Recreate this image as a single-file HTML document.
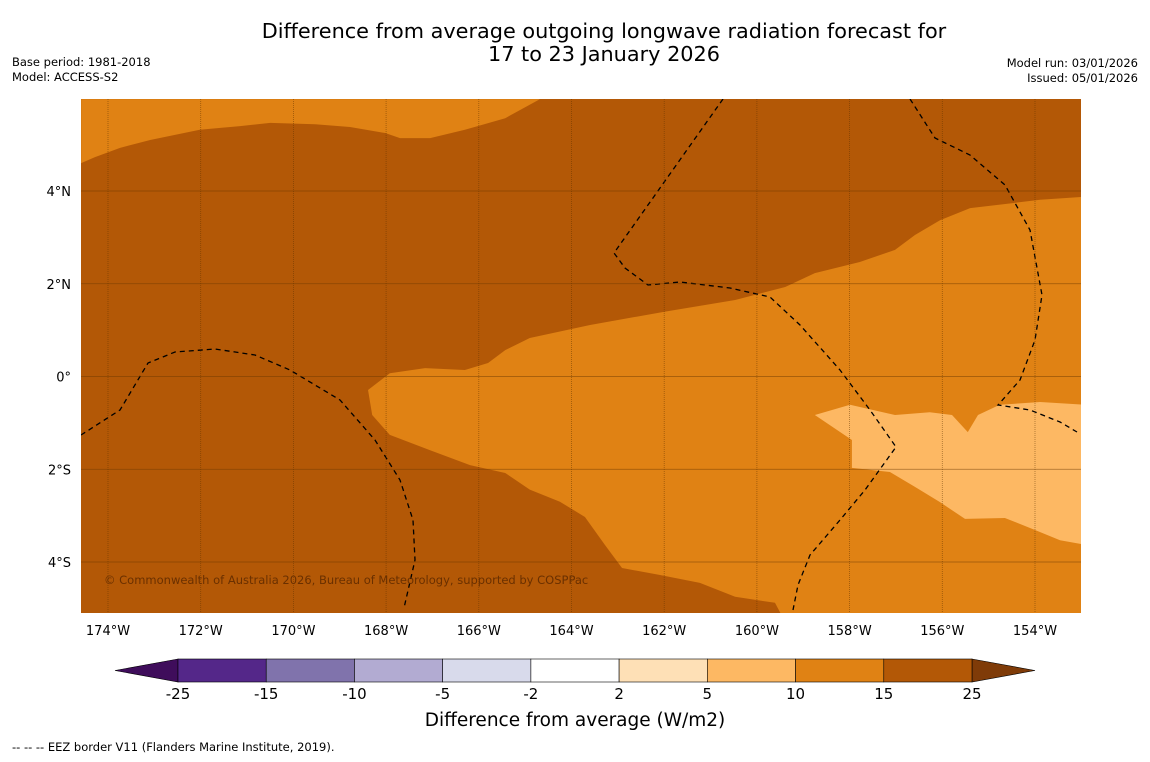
<!DOCTYPE html>
<html><head><meta charset="utf-8"><style>
body{margin:0;background:#fff;font-family:"DejaVu Sans","Liberation Sans",sans-serif;}
svg text{font-family:"DejaVu Sans","Liberation Sans",sans-serif;}
</style></head><body>
<svg id="c" width="1150" height="758" xmlns="http://www.w3.org/2000/svg">
<rect width="1150" height="758" fill="#fff"/>
<text x="604" y="38" font-size="20.8" text-anchor="middle">Difference from average outgoing longwave radiation forecast for</text>
<text x="604" y="61" font-size="20.8" text-anchor="middle">17 to 23 January 2026</text>
<text x="12" y="66" font-size="11.5">Base period: 1981-2018</text>
<text x="12" y="81" font-size="11.5">Model: ACCESS-S2</text>
<text x="1138" y="67" font-size="11.5" text-anchor="end">Model run: 03/01/2026</text>
<text x="1138" y="82" font-size="11.5" text-anchor="end">Issued: 05/01/2026</text>
<defs><clipPath id="mc"><rect x="81" y="99" width="1000" height="514"/></clipPath></defs>
<g id="map" clip-path="url(#mc)"></g>
<g id="axes"></g>
<g id="cbar"></g>
<text x="575" y="726" font-size="18.5" text-anchor="middle">Difference from average (W/m2)</text>
<text x="12" y="751" font-size="11.5">--  --  -- EEZ border V11 (Flanders Marine Institute, 2019).</text>
</svg>
<script>
const lonTicks=[-174,-172,-170,-168,-166,-164,-162,-160,-158,-156,-154];
const latTicks=[4,2,0,-2,-4];
const cbLevels=[-25,-15,-10,-5,-2,2,5,10,15,25];
const cbColors=["#542789","#8073ac","#b2abd2","#d8daeb","#ffffff","#fee0b6","#fdb863","#e08214","#b35806"];
const regionTopLeft=[[-174.58,5.98],[-164.68,5.98],[-165.43,5.57],[-166.30,5.32],[-167.05,5.14],[-167.70,5.14],[-168.02,5.25],[-168.78,5.38],[-169.53,5.44],[-170.50,5.47],[-171.15,5.40],[-172.02,5.32],[-173.09,5.10],[-173.74,4.93],[-174.28,4.73],[-174.58,4.60]];
const regionMid=[[-153.01,3.87],[-153.89,3.81],[-155.40,3.63],[-156.05,3.37],[-156.59,3.05],[-157.02,2.73],[-157.78,2.47],[-158.75,2.23],[-159.39,1.93],[-160.47,1.65],[-161.98,1.40],[-163.60,1.11],[-164.90,0.83],[-165.43,0.57],[-165.80,0.29],[-166.30,0.14],[-167.16,0.18],[-167.92,0.07],[-168.39,-0.29],[-168.30,-0.83],[-167.92,-1.26],[-167.05,-1.59],[-166.19,-1.91],[-165.43,-2.08],[-164.90,-2.44],[-164.25,-2.70],[-163.71,-3.03],[-163.28,-3.63],[-162.91,-4.13],[-162.09,-4.28],[-161.23,-4.45],[-160.47,-4.75],[-159.61,-4.88],[-159.44,-5.2],[-152.9,-5.2],[-152.9,3.87]];
const regionLight=[[-158.75,-0.83],[-157.99,-0.61],[-157.02,-0.83],[-156.27,-0.77],[-155.79,-0.83],[-155.45,-1.20],[-155.23,-0.83],[-154.76,-0.61],[-153.89,-0.55],[-152.9,-0.61],[-152.9,-3.63],[-153.46,-3.53],[-154.0,-3.31],[-154.65,-3.05],[-155.51,-3.07],[-156.05,-2.71],[-156.59,-2.38],[-157.13,-2.06],[-157.95,-1.97],[-157.95,-1.37]];
const xs=lon=>108+(lon+174)*46.35;
const ys=lat=>376.5-lat*46.375;
const NS="http://www.w3.org/2000/svg";
function mk(t,a,p){const e=document.createElementNS(NS,t);for(const k in a)e.setAttribute(k,a[k]);p.appendChild(e);return e;}
const map=document.getElementById('map');
const bg=mk('rect',{x:81,y:99,width:1000,height:514,fill:"#b35806"},map);


function poly(pts,fill,name){const e=mk('polygon',{points:pts.map(p=>xs(p[0])+','+ys(p[1])).join(' '),fill:fill},map);

}
poly(regionTopLeft,"#e08214","region-10-15-north");
poly(regionMid,"#e08214","region-10-15-central");
poly(regionLight,"#fdb863","region-5-10");
const eez=["M81,435 L120,410 L148,363 L175,352 L215,349 L255,355 L290,370 L340,400 L375,440 L400,480 L413,520 L415,560 L404,608",
"M723,99 L614,253 L625,268 L648,285 L680,282 L730,288 L770,297 L800,325 L840,370 L870,410 L896,447 L865,490 L840,520 L810,555 L798,585 L793,610",
"M910,99 L935,138 L970,155 L1005,185 L1030,230 L1042,295 L1035,340 L1020,380 L998,405 L1030,410 L1060,422 L1077,432"];
eez.forEach((d,i)=>{const e=mk('path',{d:d,fill:"none",stroke:"#000","stroke-width":1.3,"stroke-dasharray":"5,4"},map);

});
const axes=document.getElementById('axes');
lonTicks.forEach(l=>{const x=xs(l);
const g=mk('line',{x1:x,x2:x,y1:99,y2:613,stroke:"#5a3000","stroke-width":0.8,"stroke-dasharray":"1,1",opacity:0.55},axes);


const t=mk('text',{x:x,y:635,"font-size":13,"text-anchor":"middle"},axes);t.textContent=Math.abs(l)+"°W";

});
latTicks.forEach(l=>{const y=ys(l);
const g=mk('line',{x1:81,x2:1081,y1:y,y2:y,stroke:"#6a3800","stroke-width":0.8,opacity:0.6},axes);


const t=mk('text',{x:71,y:y+5,"font-size":13,"text-anchor":"end"},axes);t.textContent=l==0?"0°":Math.abs(l)+"°"+(l>0?"N":"S");

});
const cp=mk('text',{x:104,y:584,"font-size":11.5,fill:"#6a3000"},axes);cp.textContent="© Commonwealth of Australia 2026, Bureau of Meteorology, supported by COSPPac";


const cb=document.getElementById('cbar');
const cx0=178,cw=(972-178)/cbColors.length,cy=659,ch=23;
const lt=mk('polygon',{points:`178,${cy} 115,${cy+ch/2} 178,${cy+ch}`,fill:"#3f0d5b",stroke:"#000","stroke-width":0.6},cb);


const rt=mk('polygon',{points:`972,${cy} 1035,${cy+ch/2} 972,${cy+ch}`,fill:"#7f3b08",stroke:"#000","stroke-width":0.6},cb);


cbColors.forEach((c,i)=>{const r=mk('rect',{x:cx0+i*cw,y:cy,width:cw,height:ch,fill:c,stroke:"#000","stroke-width":0.6},cb);

});
cbLevels.forEach((v,i)=>{const t=mk('text',{x:cx0+i*cw,y:699,"font-size":15,"text-anchor":"middle"},cb);t.textContent=v;

});
</script>
</body></html>
